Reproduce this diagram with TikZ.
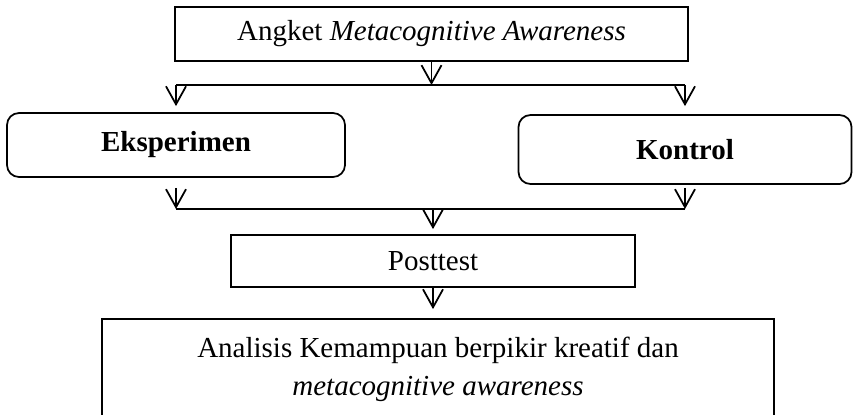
\documentclass[tikz,border=0pt]{standalone}
\usepackage{fontspec}
\setmainfont{Liberation Serif}
\usetikzlibrary{arrows.meta}

\tikzset{
  box/.style={draw, line width=1pt, inner sep=0pt, align=center},
  rbox/.style={box, rounded corners=0.24cm},
  arr/.style={line width=1pt, -{Straight Barb[length=0.36cm,width=0.4cm]}},
  ln/.style={line width=1pt}
}

\begin{document}
\begin{tikzpicture}[font=\fontsize{16.5pt}{22pt}\selectfont]
	\useasboundingbox (0,0) rectangle (17.06,-8.28);

	\node[box, minimum width=10.26cm, minimum height=1.08cm] (angket) at (8.63,-0.68) {Angket \textit{Metacognitive Awareness}};
	\node[rbox, minimum width=6.76cm, minimum height=1.28cm] (eks) at (3.52,-2.90) {\textbf{Eksperimen}};
	\node[rbox, minimum width=6.66cm, minimum height=1.38cm] (kon) at (13.70,-2.99) {\textbf{Kontrol}};
	\node[box, minimum width=8.08cm, minimum height=1.04cm] (post) at (8.66,-5.22) {Posttest};
	\node[box, minimum width=13.44cm, minimum height=2.02cm] (anal) at (8.76,-7.39) {Analisis Kemampuan berpikir kreatif dan\\ \textit{metacognitive awareness}};

	\coordinate (split) at (8.63,-1.70);
	\coordinate (merge) at (8.66,-4.18);

	\draw[arr] (angket.south) -- (split);
	\draw[ln] (eks.north |- split) -- (kon.north |- split);
	\draw[arr, shorten >=0.12cm] (eks.north |- split) -- (eks.north);
	\draw[arr, shorten >=0.16cm] (kon.north |- split) -- (kon.north);

	\draw[arr, shorten <=0.2cm] (eks.south) -- (eks.south |- merge);
	\draw[arr, shorten <=0.06cm] (kon.south) -- (kon.south |- merge);
	\draw[ln] (eks.south |- merge) -- (kon.south |- merge);

	\draw[arr, shorten >=0.1cm] (merge) -- (post.north);
	\draw[arr, shorten >=0.18cm] (post.south) -- (post.south |- anal.north);
\end{tikzpicture}
\end{document}
